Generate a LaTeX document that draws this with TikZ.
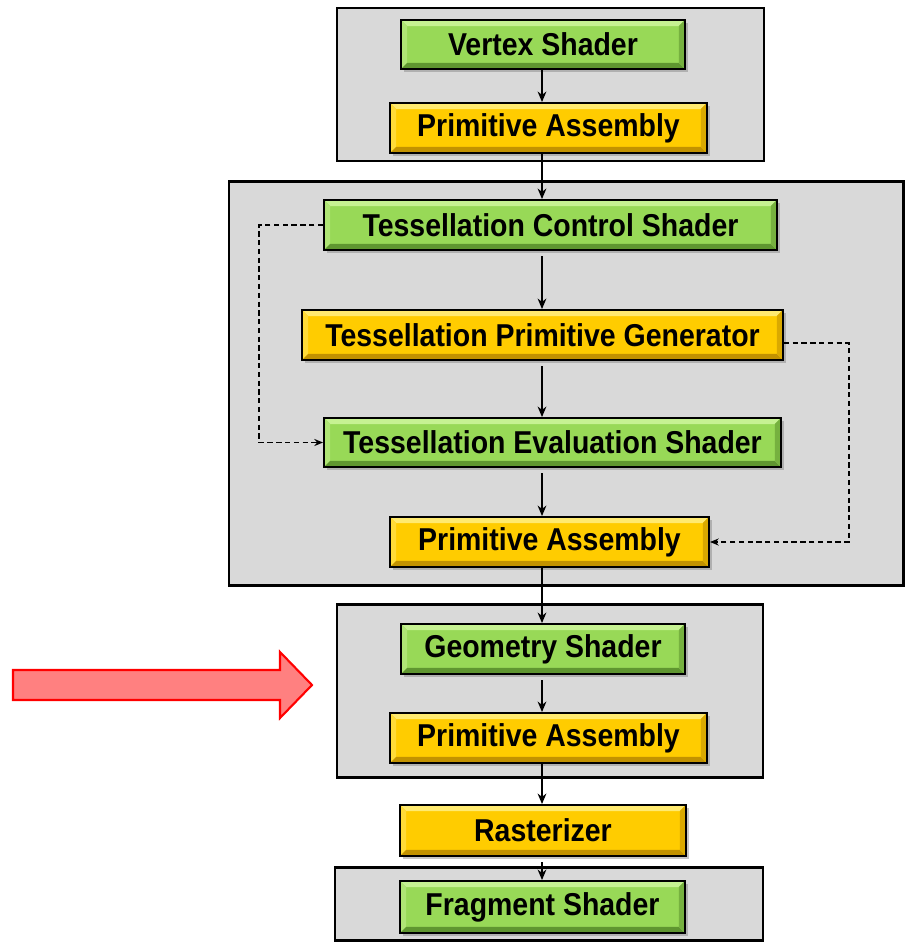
\documentclass[tikz,border=0pt]{standalone}
\usepackage{fontspec}
\setmainfont{Liberation Sans}
\newfontfamily\boxfont[FakeStretch=0.9]{Liberation Sans}
\usetikzlibrary{arrows.meta,shadows}

\definecolor{stagegray}{HTML}{D9D9D9}
\definecolor{greenface}{HTML}{98D957}
\definecolor{greenlite}{HTML}{C6F292}
\definecolor{greendark}{HTML}{5F9630}
\definecolor{goldface}{HTML}{FFCC00}
\definecolor{goldlite}{HTML}{FFEA70}
\definecolor{golddark}{HTML}{C29200}
\definecolor{hintfill}{HTML}{FF8080}

\tikzset{
  block/.style n args={3}{draw=black, line width=1.1pt, minimum height=0.98cm,
    font=\boxfont\fontsize{18}{20}\selectfont\bfseries, fill=#1,
    drop shadow={shadow xshift=1.6pt, shadow yshift=-1.6pt, opacity=0.45},
    path picture={
      \coordinate (nw) at (path picture bounding box.north west);
      \coordinate (ne) at (path picture bounding box.north east);
      \coordinate (sw) at (path picture bounding box.south west);
      \coordinate (se) at (path picture bounding box.south east);
      \fill[#2] (nw) -- (ne) -- ([xshift=-3.5pt,yshift=-3.5pt]ne) -- ([xshift=3.5pt,yshift=-3.5pt]nw) -- cycle;
      \fill[#2!50!#1] (nw) -- ([xshift=3.5pt,yshift=-3.5pt]nw) -- ([xshift=3.5pt,yshift=3.5pt]sw) -- (sw) -- cycle;
      \fill[#3] (sw) -- (se) -- ([xshift=-3.5pt,yshift=3.5pt]se) -- ([xshift=3.5pt,yshift=3.5pt]sw) -- cycle;
      \fill[#3!60!#1] (ne) -- ([xshift=-3.5pt,yshift=-3.5pt]ne) -- ([xshift=-3.5pt,yshift=3.5pt]se) -- (se) -- cycle;
    }},
  shader/.style={block={greenface}{greenlite}{greendark}},
  fixedfn/.style={block={goldface}{goldlite}{golddark}},
  stage/.style={draw=black, line width=1.7pt, fill=stagegray},
  flow/.style={-{Stealth[length=6pt,width=5pt]}, line width=0.8pt},
  dflow/.style={-{Stealth[length=5pt,width=4pt]}, line width=0.8pt, dash pattern=on 3pt off 2pt}
}

\begin{document}
\begin{tikzpicture}[x=0.02cm,y=-0.02cm]
\useasboundingbox (0,0) rectangle (912,944);

% stage boxes
\draw[stage] (337,8) rectangle (764,161);
\draw[stage] (229,181) rectangle (903,585);
\draw[stage] (337,604) rectangle (763,777);
\draw[stage] (335,867) rectangle (763,940);

% pointer
\draw[draw=red, line width=1.2pt, fill=hintfill, line join=miter]
  (13,670) -- (280,670) -- (280,652) -- (312,685) -- (280,718) -- (280,700) -- (13,700) -- cycle;

\coordinate (spine) at (542,0);

% vertex stage
\node[shader, minimum width=5.68cm] (vs) at (543,44.5) {Vertex Shader};
\node[fixedfn, minimum width=6.34cm, minimum height=1cm] (pa1) at (548.5,128) {Primitive Assembly};

% tessellation stage
\node[shader, minimum width=9.06cm, minimum height=1cm] (tcs) at (550.5,225) {Tessellation Control Shader};
\node[fixedfn, minimum width=9.62cm, minimum height=1cm] (tpg) at (542.5,335) {Tessellation Primitive Generator};
\node[shader, minimum width=9.14cm] (tes) at (552.5,442.5) {Tessellation Evaluation Shader};
\node[fixedfn, minimum width=6.38cm, minimum height=1cm] (pa2) at (549.5,542) {Primitive Assembly};

% geometry stage
\node[shader, minimum width=5.68cm, minimum height=1cm] (gs) at (543,649) {Geometry Shader};
\node[fixedfn, minimum width=6.34cm, minimum height=1cm] (pa3) at (548.5,738) {Primitive Assembly};

% raster + fragment
\node[fixedfn, minimum width=5.72cm, minimum height=1.02cm] (rast) at (543,830.5) {Rasterizer};
\node[shader, minimum width=5.7cm, minimum height=1.04cm] (fs) at (542.5,907) {Fragment Shader};

% main flow
\draw[flow] (vs.south -| spine) -- (pa1.north -| spine);
\draw[flow] (pa1.south -| spine) -- (tcs.north -| spine);
\draw[flow, shorten <=3pt] (tcs.south -| spine) -- (tpg.north -| spine);
\draw[flow, shorten <=3pt] (tpg.south -| spine) -- (tes.north -| spine);
\draw[flow, shorten <=3pt] (tes.south -| spine) -- (pa2.north -| spine);
\draw[flow] (pa2.south -| spine) -- (gs.north -| spine);
\draw[flow, shorten <=3pt] (gs.south -| spine) -- (pa3.north -| spine);
\draw[flow] (pa3.south -| spine) -- (rast.north -| spine);
\draw[flow, shorten <=3pt] (rast.south -| spine) -- (fs.north -| spine);

% bypass paths
\draw[dflow] (tcs.west) -- ++(-64,0) |- (tes.west);
\draw[dflow] ([yshift=-4.5pt]tpg.east) -- ++(65,0) |- (pa2.east);

\end{tikzpicture}
\end{document}
